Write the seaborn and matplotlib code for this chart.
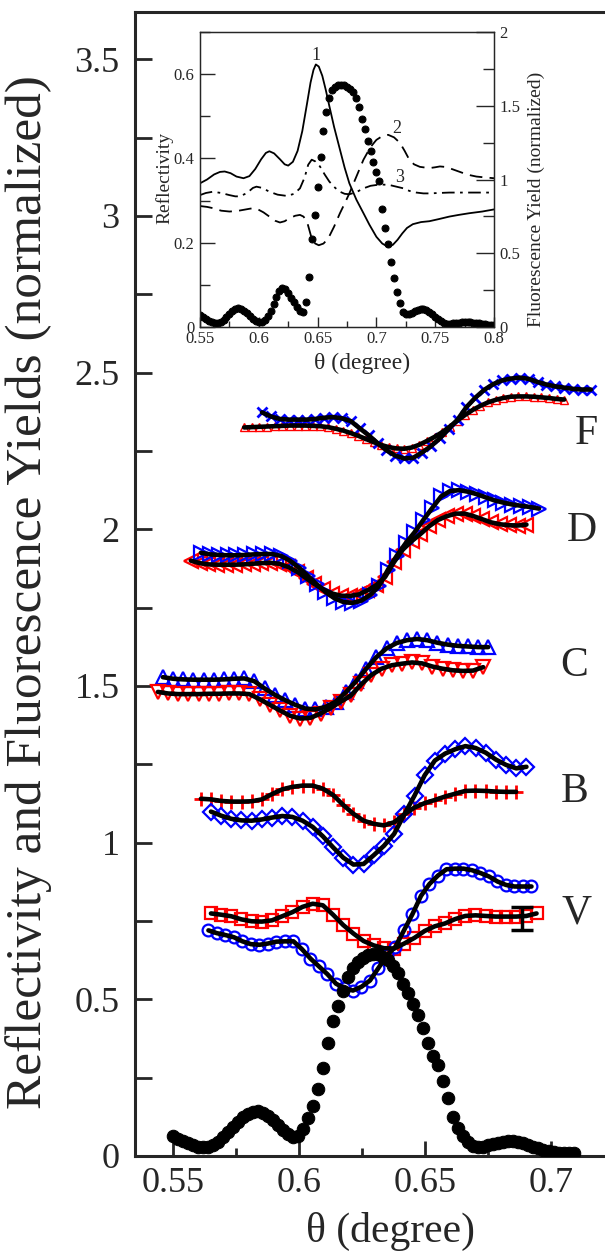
import matplotlib
matplotlib.use("Agg")
import matplotlib.pyplot as plt
import seaborn as sns
import numpy as np
from matplotlib.ticker import MultipleLocator

sns.set_style("ticks")
plt.rcParams['font.family'] = ['Liberation Serif', 'DejaVu Serif']

# ---- main panel data (theta in degree, normalized yields) ----
# fluorescence yield, black dots
fy_x = np.linspace(0.550, 0.709, 81)
fy_y = [0.064, 0.055, 0.047, 0.040, 0.034, 0.030, 0.028, 0.030, 0.036, 0.046,
        0.060, 0.076, 0.093, 0.110, 0.124, 0.135, 0.141, 0.142, 0.138, 0.128,
        0.114, 0.098, 0.083, 0.070, 0.062, 0.065, 0.085, 0.120, 0.160, 0.215,
        0.280, 0.360, 0.430, 0.480, 0.525, 0.570, 0.600, 0.620, 0.632, 0.640,
        0.645, 0.643, 0.636, 0.625, 0.605, 0.583, 0.550, 0.520, 0.485, 0.450,
        0.410, 0.360, 0.320, 0.290, 0.240, 0.185, 0.125, 0.090, 0.065, 0.045,
        0.032, 0.028, 0.030, 0.034, 0.038, 0.042, 0.045, 0.047, 0.047, 0.045,
        0.041, 0.036, 0.030, 0.025, 0.020, 0.016, 0.013, 0.011, 0.010, 0.010,
        0.010]

# F
f_red_x = np.linspace(0.5781, 0.7053, 43)
f_red_y = [2.325, 2.326, 2.327, 2.328, 2.329, 2.330, 2.331, 2.331, 2.331, 2.330,
           2.329, 2.326, 2.321, 2.315, 2.307, 2.298, 2.288, 2.278, 2.269, 2.262,
           2.258, 2.257, 2.261, 2.270, 2.282, 2.295, 2.310, 2.328, 2.347, 2.365,
           2.381, 2.394, 2.405, 2.413, 2.419, 2.423, 2.424, 2.424, 2.423, 2.421,
           2.419, 2.416, 2.414]
f_blue_x = np.linspace(0.5852, 0.7159, 38)
f_blue_y = [2.373, 2.360, 2.352, 2.350, 2.350, 2.350, 2.352, 2.356, 2.358, 2.354,
            2.345, 2.322, 2.300, 2.275, 2.252, 2.235, 2.226, 2.228, 2.245, 2.265,
            2.290, 2.320, 2.350, 2.390, 2.420, 2.445, 2.463, 2.475, 2.481, 2.484,
            2.480, 2.470, 2.462, 2.456, 2.452, 2.448, 2.446, 2.446]

# D
d_red_x = np.linspace(0.5569, 0.6903, 39)
d_red_y = [1.900, 1.892, 1.888, 1.887, 1.887, 1.887, 1.888, 1.890, 1.892, 1.893,
           1.890, 1.880, 1.865, 1.845, 1.825, 1.808, 1.795, 1.788, 1.787, 1.792,
           1.805, 1.822, 1.848, 1.895, 1.935, 1.962, 1.985, 2.010, 2.030, 2.042,
           2.050, 2.050, 2.042, 2.032, 2.022, 2.016, 2.013, 2.012, 2.015]
d_blue_x = np.linspace(0.5609, 0.6953, 39)
d_blue_y = [1.925, 1.920, 1.918, 1.917, 1.917, 1.918, 1.920, 1.921, 1.921, 1.915,
            1.900, 1.878, 1.852, 1.825, 1.800, 1.780, 1.768, 1.765, 1.772, 1.790,
            1.818, 1.870, 1.915, 1.955, 1.990, 2.030, 2.068, 2.105, 2.122, 2.125,
            2.120, 2.112, 2.102, 2.092, 2.085, 2.079, 2.075, 2.071, 2.066]

# C
c_blue_x = np.linspace(0.5458, 0.6751, 33)
c_blue_y = [1.528, 1.523, 1.521, 1.520, 1.520, 1.520, 1.521, 1.523, 1.524, 1.515,
            1.492, 1.472, 1.455, 1.440, 1.428, 1.425, 1.433, 1.450, 1.480, 1.515,
            1.555, 1.592, 1.620, 1.637, 1.646, 1.650, 1.646, 1.638, 1.632, 1.628,
            1.626, 1.624, 1.624]
c_red_x = np.linspace(0.5438, 0.6731, 33)
c_red_y = [1.481, 1.476, 1.474, 1.474, 1.474, 1.475, 1.475, 1.476, 1.476, 1.474,
           1.458, 1.440, 1.422, 1.405, 1.396, 1.398, 1.412, 1.430, 1.450, 1.470,
           1.505, 1.535, 1.555, 1.566, 1.571, 1.575, 1.572, 1.562, 1.555, 1.550,
           1.548, 1.549, 1.560]

# B
b_red_x = np.linspace(0.5609, 0.6862, 32)
b_red_y = [1.140, 1.138, 1.133, 1.131, 1.131, 1.132, 1.138, 1.155, 1.170, 1.178,
           1.182, 1.182, 1.172, 1.152, 1.120, 1.092, 1.070, 1.060, 1.055, 1.065,
           1.090, 1.112, 1.126, 1.136, 1.147, 1.156, 1.165, 1.166, 1.165, 1.163,
           1.162, 1.162]
b_blue_x = np.linspace(0.5649, 0.6903, 32)
b_blue_y = [1.099, 1.086, 1.076, 1.071, 1.070, 1.074, 1.080, 1.085, 1.082, 1.070,
            1.050, 1.020, 0.985, 0.952, 0.930, 0.932, 0.960, 0.990, 1.028, 1.090,
            1.150, 1.215, 1.262, 1.284, 1.298, 1.308, 1.302, 1.287, 1.265, 1.248,
            1.237, 1.242]

# V
v_red_x = np.linspace(0.5649, 0.6943, 33)
v_red_y = [0.774, 0.770, 0.765, 0.755, 0.749, 0.748, 0.752, 0.765, 0.778, 0.795,
           0.805, 0.800, 0.770, 0.737, 0.710, 0.686, 0.672, 0.663, 0.662, 0.678,
           0.696, 0.718, 0.733, 0.742, 0.756, 0.766, 0.768, 0.766, 0.764, 0.764,
           0.764, 0.766, 0.774]
v_blue_x = np.linspace(0.5639, 0.6923, 39)
v_blue_y = [0.720, 0.711, 0.705, 0.698, 0.685, 0.676, 0.674, 0.678, 0.684, 0.685,
            0.685, 0.660, 0.630, 0.605, 0.580, 0.550, 0.535, 0.528, 0.540, 0.560,
            0.600, 0.640, 0.668, 0.720, 0.772, 0.830, 0.868, 0.895, 0.915, 0.917,
            0.917, 0.912, 0.903, 0.892, 0.876, 0.865, 0.860, 0.860, 0.860]

err_x = [0.6885]
err_y = [0.758]
err_dy = [0.038]

labels = ['F', 'D', 'C', 'B', 'V']
label_x = [0.7140, 0.7124, 0.7092, 0.7096, 0.7104]
label_y = [2.271, 1.962, 1.532, 1.131, 0.742]

# ---- inset data ----
r1_x = [0.550, 0.556, 0.562, 0.567, 0.571, 0.576, 0.581, 0.587, 0.592, 0.597,
        0.602, 0.606, 0.609, 0.613, 0.618, 0.622, 0.625, 0.629, 0.633, 0.637,
        0.641, 0.644, 0.6465, 0.6485, 0.651, 0.654, 0.657, 0.660, 0.664, 0.669,
        0.673, 0.677, 0.683, 0.689, 0.694, 0.700, 0.705, 0.710, 0.714, 0.718,
        0.722, 0.726, 0.731, 0.738, 0.745, 0.753, 0.762, 0.770, 0.779, 0.790,
        0.800]
r1_y = [0.341, 0.350, 0.362, 0.368, 0.369, 0.365, 0.357, 0.353, 0.358, 0.375,
        0.398, 0.413, 0.417, 0.412, 0.398, 0.386, 0.383, 0.392, 0.418, 0.465,
        0.530, 0.580, 0.610, 0.623, 0.618, 0.596, 0.562, 0.524, 0.475, 0.421,
        0.378, 0.341, 0.302, 0.270, 0.243, 0.214, 0.198, 0.190, 0.195, 0.207,
        0.222, 0.235, 0.244, 0.249, 0.251, 0.256, 0.262, 0.266, 0.270, 0.274,
        0.279]
r2_x = [0.550, 0.556, 0.561, 0.568, 0.575, 0.581, 0.587, 0.593, 0.598, 0.604,
        0.609, 0.614, 0.618, 0.622, 0.626, 0.631, 0.635, 0.638, 0.641, 0.643,
        0.645, 0.648, 0.651, 0.655, 0.659, 0.664, 0.669, 0.673, 0.677, 0.683,
        0.689, 0.695, 0.700, 0.705, 0.710, 0.715, 0.720, 0.724, 0.728, 0.732,
        0.737, 0.745, 0.750, 0.754, 0.758, 0.762, 0.768, 0.774, 0.780, 0.785,
        0.792, 0.800]
r2_y = [0.287, 0.285, 0.282, 0.276, 0.274, 0.275, 0.278, 0.281, 0.281, 0.272,
        0.262, 0.252, 0.248, 0.251, 0.258, 0.264, 0.266, 0.262, 0.250, 0.230,
        0.210, 0.198, 0.194, 0.198, 0.210, 0.238, 0.270, 0.293, 0.317, 0.357,
        0.397, 0.427, 0.444, 0.453, 0.456, 0.450, 0.437, 0.418, 0.397, 0.386,
        0.380, 0.377, 0.379, 0.381, 0.380, 0.377, 0.371, 0.365, 0.360, 0.357,
        0.355, 0.353]
r3_x = [0.550, 0.555, 0.561, 0.568, 0.575, 0.580, 0.584, 0.590, 0.595, 0.598,
        0.603, 0.609, 0.616, 0.624, 0.630, 0.635, 0.639, 0.642, 0.645, 0.648,
        0.652, 0.656, 0.660, 0.665, 0.669, 0.673, 0.677, 0.683, 0.689, 0.695,
        0.700, 0.705, 0.711, 0.717, 0.723, 0.728, 0.734, 0.740, 0.745, 0.753,
        0.762, 0.780, 0.800]
r3_y = [0.313, 0.318, 0.321, 0.318, 0.313, 0.310, 0.310, 0.318, 0.330, 0.333,
        0.330, 0.321, 0.314, 0.311, 0.316, 0.329, 0.355, 0.385, 0.397, 0.393,
        0.381, 0.362, 0.345, 0.330, 0.321, 0.316, 0.315, 0.320, 0.329, 0.335,
        0.337, 0.338, 0.337, 0.333, 0.329, 0.323, 0.319, 0.317, 0.317, 0.318,
        0.319, 0.319, 0.319]
fi_x = np.linspace(0.55, 0.80, 101)
fi_y = [0.080, 0.068, 0.055, 0.043, 0.033, 0.028, 0.028, 0.036, 0.050, 0.068,
        0.088, 0.106, 0.120, 0.126, 0.122, 0.110, 0.092, 0.072, 0.054, 0.040,
        0.034, 0.036, 0.050, 0.075, 0.110, 0.155, 0.205, 0.245, 0.262, 0.255,
        0.230, 0.200, 0.170, 0.135, 0.108, 0.105, 0.170, 0.340, 0.595, 0.760,
        0.950, 1.150, 1.330, 1.455, 1.555, 1.605, 1.628, 1.638, 1.640, 1.638,
        1.630, 1.615, 1.590, 1.550, 1.490, 1.410, 1.340, 1.260, 1.190, 1.120,
        1.050, 0.990, 0.800, 0.670, 0.560, 0.440, 0.330, 0.240, 0.160, 0.100,
        0.088, 0.090, 0.098, 0.108, 0.118, 0.124, 0.125, 0.118, 0.105, 0.088,
        0.070, 0.052, 0.038, 0.028, 0.023, 0.022, 0.024, 0.027, 0.030, 0.033,
        0.034, 0.034, 0.032, 0.030, 0.028, 0.026, 0.022, 0.018, 0.015, 0.012,
        0.011]
num_x = [0.6486, 0.7175, 0.7194]
num_y = [0.634, 0.4615, 0.343]
num_txt = ['1', '2', '3']

fig = plt.figure(figsize=(6.05, 12.58), dpi=100)
ax = fig.add_axes([0.2231, 0.0811, 0.7868, 0.9094])


def open_marks(x, y, marker, color, ms, mew=1.6):
    sns.lineplot(x=x, y=y, ax=ax, estimator=None, sort=False, linestyle='none',
                 marker=marker, ms=ms, mfc='none', mec=color, mew=mew, color=color,
                 zorder=2)


def fit_line(x, y):
    sns.lineplot(x=x, y=y, ax=ax, estimator=None, sort=False, color='black',
                 lw=3.3, zorder=3)


open_marks(f_red_x, f_red_y, '^', 'red', 6, 1.0)
open_marks(f_blue_x, f_blue_y, 'x', 'blue', 7, 2.0)
open_marks(d_red_x, d_red_y, '<', 'red', 10)
open_marks(d_blue_x, d_blue_y, '>', 'blue', 10)
open_marks(c_blue_x, c_blue_y, '^', 'blue', 10)
open_marks(c_red_x, c_red_y, 'v', 'red', 10)
open_marks(b_red_x, b_red_y, '+', 'red', 10, 2.0)
open_marks(b_blue_x, b_blue_y, 'D', 'blue', 8)
open_marks(v_red_x, v_red_y, 's', 'red', 8.5)
open_marks(v_blue_x, v_blue_y, 'o', 'blue', 8.5)

for xs, ys in [(f_red_x, f_red_y), (f_blue_x, f_blue_y), (d_red_x, d_red_y),
               (d_blue_x, d_blue_y), (c_blue_x, c_blue_y), (c_red_x, c_red_y),
               (b_red_x, b_red_y), (b_blue_x, b_blue_y), (v_red_x, v_red_y),
               (v_blue_x, v_blue_y)]:
    fit_line(xs, ys)

sns.lineplot(x=fy_x, y=fy_y, ax=ax, estimator=None, sort=False, linestyle='none',
             marker='o', ms=9, mfc='black', mec='black', color='black', zorder=4)
ax.errorbar(err_x, err_y, yerr=err_dy, fmt='none', ecolor='black',
            elinewidth=2.5, capsize=8, capthick=2.5, zorder=5)

for t, xx, yy in zip(labels, label_x, label_y):
    ax.text(xx, yy, t, fontsize=30, ha='center', va='baseline')

ax.set_xlim(0.5347, 0.7239)
ax.set_ylim(0, 3.651)
ax.xaxis.set_minor_locator(MultipleLocator(0.025))
ax.yaxis.set_minor_locator(MultipleLocator(0.25))
ax.set_xticks([0.55, 0.6, 0.65, 0.7])
ax.set_xticklabels(['0.55', '0.6', '0.65', '0.7'])
ax.set_yticks([0, 0.5, 1, 1.5, 2, 2.5, 3, 3.5])
ax.set_yticklabels(['0', '0.5', '1', '1.5', '2', '2.5', '3', '3.5'])
ax.tick_params(axis='both', which='both', direction='in', width=2, labelsize=26)
ax.tick_params(axis='y', which='both', length=12, pad=11)
ax.tick_params(axis='x', which='major', length=11, pad=8)
ax.tick_params(axis='x', which='minor', length=6)
for s in ax.spines.values():
    s.set_linewidth(2.2)
ax.set_ylabel('Reflectivity and Fluorescence Yields (normalized)', fontsize=37)
ax.yaxis.set_label_coords(-0.174, 0.493)
ax.set_xlabel('θ (degree)', fontsize=30)
ax.xaxis.set_label_coords(0.536, -0.049)

# ---- inset ----
axi = fig.add_axes([200 / 605, 931 / 1258, 294 / 605, 295 / 1258])
axi.set_facecolor('white')
sns.lineplot(x=r1_x, y=r1_y, ax=axi, estimator=None, sort=False, color='black',
             lw=1.3)
sns.lineplot(x=r2_x, y=r2_y, ax=axi, estimator=None, sort=False, color='black',
             lw=1.3, linestyle=(0, (7, 4)))
sns.lineplot(x=r3_x, y=r3_y, ax=axi, estimator=None, sort=False, color='black',
             lw=1.3, linestyle=(0, (7, 3, 1.5, 3)))
for t, xx, yy in zip(num_txt, num_x, num_y):
    axi.text(xx, yy, t, fontsize=13, ha='center', va='baseline')
axi.set_xlim(0.55, 0.80)
axi.set_ylim(0, 0.7)
axi.xaxis.set_minor_locator(MultipleLocator(0.025))
axi.set_yticks([0, 0.2, 0.4, 0.6])
axi.set_yticklabels(['0', '0.2', '0.4', '0.6'])
axi.yaxis.set_minor_locator(MultipleLocator(0.1))
axi.set_xticks([0.55, 0.6, 0.65, 0.7, 0.75, 0.8])
axi.set_xticklabels(['0.55', '0.6', '0.65', '0.7', '0.75', '0.8'])
axi.tick_params(axis='both', which='both', direction='in', width=1, labelsize=12)
axi.tick_params(axis='y', which='major', length=11, pad=4)
axi.tick_params(axis='y', which='minor', length=7)
axi.tick_params(axis='x', which='major', length=7, pad=3)
axi.tick_params(axis='x', which='minor', length=4)
for s in axi.spines.values():
    s.set_linewidth(0.9)
axi.set_ylabel('Reflectivity', fontsize=14)
axi.yaxis.set_label_coords(-0.09, 0.505)
axi.set_xlabel('θ (degree)', fontsize=17)
axi.xaxis.set_label_coords(0.551, -0.088)

axr = axi.twinx()
sns.lineplot(x=fi_x, y=fi_y, ax=axr, estimator=None, sort=False, linestyle='none',
             marker='o', ms=5, mfc='black', mec='black', color='black')
axr.set_ylim(0, 2)
axr.set_yticks([0, 0.5, 1, 1.5, 2])
axr.set_yticklabels(['0', '0.5', '1', '1.5', '2'])
axr.yaxis.set_minor_locator(MultipleLocator(0.25))
axr.tick_params(axis='y', which='both', direction='in', width=1, labelsize=12)
axr.tick_params(axis='y', which='major', length=13, pad=4)
axr.tick_params(axis='y', which='minor', length=8)
axr.set_ylabel('Fluorescence Yield (normalized)', fontsize=14)
axr.yaxis.set_label_coords(1.116, 0.434)
for s in axr.spines.values():
    s.set_linewidth(0.9)

fig.savefig('out.png', dpi=100)
